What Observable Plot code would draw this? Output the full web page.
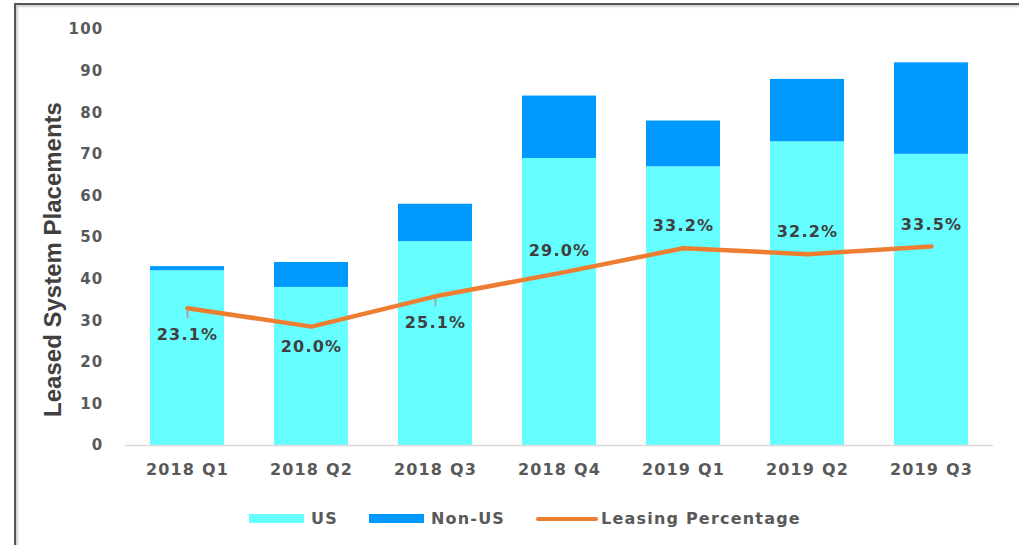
<!DOCTYPE html>
<html>
<head>
<meta charset="utf-8">
<script src="https://cdn.jsdelivr.net/npm/d3@7"></script>
<script src="https://cdn.jsdelivr.net/npm/@observablehq/plot@0.6"></script>
<style>
  html, body { margin: 0; padding: 0; width: 1019px; height: 545px; overflow: hidden; background: #fff; }
  #frame { position: absolute; left: 14px; top: 3px; width: 1100px; height: 600px;
           border: 2px solid #555; box-shadow: inset 2px 2px 2px #d0d0d0; box-sizing: border-box; }
  #chart { position: absolute; left: 0; top: 0; }
  #legend { position: absolute; left: 249px; top: 509px; display: flex; align-items: center;
            font-family: "DejaVu Sans", sans-serif; font-weight: bold; font-size: 16px; letter-spacing: 1.2px; color: #595959; }
  .sw { display: inline-block; width: 55px; height: 9px; margin-right: 7px; }
  .ln { display: inline-block; width: 62px; height: 4px; border-radius: 2px; background: #ED7D31; margin-right: 3px; }
  .item { display: flex; align-items: center; margin-right: 31px; }
  #chart svg text { letter-spacing: 1.2px; }
  #chart svg .ytitle text { letter-spacing: 0; }
</style>
</head>
<body>
<div id="frame"></div>
<div id="chart"></div>
<div id="legend"></div>
<script>
const quarters = ["2018 Q1", "2018 Q2", "2018 Q3", "2018 Q4", "2019 Q1", "2019 Q2", "2019 Q3"];
const usValues = [42, 38, 49, 69, 67, 73, 70];
const nonUsValues = [1, 6, 9, 15, 11, 15, 22];
const leasingPct = [23.1, 20.0, 25.1, 29.0, 33.2, 32.2, 33.5];
const labelPlacement = ["below-moved", "below", "below-moved", "above", "above", "above", "above"];
const yTicks = [0, 10, 20, 30, 40, 50, 60, 70, 80, 90, 100];
const secondaryMax = 70; // hidden secondary axis (0%–70%)
const seriesNames = ["US", "Non-US"];
const seriesColors = ["#66FFFF", "#0099FF"];
const lineColor = "#ED7D31";

const bars = [];
quarters.forEach((q, i) => {
  bars.push({quarter: q, series: "US", value: usValues[i]});
  bars.push({quarter: q, series: "Non-US", value: nonUsValues[i]});
});
const pts = quarters.map((q, i) => ({quarter: q, pct: leasingPct[i], pos: labelPlacement[i],
  y: leasingPct[i] / secondaryMax * 100}));

const plot = Plot.plot({
  width: 1019,
  height: 490,
  marginLeft: 125,
  marginRight: 26,
  marginTop: 29,
  marginBottom: 45,
  style: {fontFamily: "DejaVu Sans, sans-serif", fontWeight: "bold", color: "#595959", background: "transparent"},
  x: {domain: quarters, paddingInner: 0.4, paddingOuter: 0.2, label: null},
  y: {domain: [0, 100], label: null},
  color: {domain: seriesNames, range: seriesColors},
  marks: [
    Plot.barY(bars, Plot.stackY({x: "quarter", y: "value", fill: "series", order: seriesNames})),
    Plot.ruleY([0], {stroke: "#d9d9d9", strokeWidth: 1.5}),
    Plot.axisY({ticks: yTicks, tickSize: 0, tickPadding: 22, fontSize: 15, fill: "#595959", label: null}),
    Plot.axisX({tickSize: 0, tickPadding: 18, fontSize: 16, fill: "#595959", label: null}),
    Plot.ruleX(pts.filter(d => d.pos === "below-moved"), {x: "quarter", y1: "y", y2: d => d.y - 2.5, stroke: "#a6a6a6", strokeWidth: 2}),
    Plot.line(pts, {x: "quarter", y: "y", stroke: lineColor, strokeWidth: 4.5, strokeLinecap: "round", strokeLinejoin: "round"}),
    Plot.text(pts.filter(d => d.pos === "below-moved"), {x: "quarter", y: "y", text: d => d.pct.toFixed(1) + "%", dy: 27, fontSize: 16, fontWeight: "bold", fill: "#404040"}),
    Plot.text(pts.filter(d => d.pos === "below"), {x: "quarter", y: "y", text: d => d.pct.toFixed(1) + "%", dy: 20, fontSize: 16, fontWeight: "bold", fill: "#404040"}),
    Plot.text(pts.filter(d => d.pos === "above"), {x: "quarter", y: "y", text: d => d.pct.toFixed(1) + "%", dy: -22, fontSize: 16, fontWeight: "bold", fill: "#404040"}),
    Plot.text(["Leased System Placements"], {text: d => d, frameAnchor: "left", textAnchor: "middle", dx: -72, dy: 22, rotate: -90,
      className: "ytitle", fontFamily: "Liberation Sans, Arial, sans-serif", fontSize: 24, fontWeight: "bold", fill: "#404040"})
  ]
});
document.getElementById("chart").appendChild(plot);

const legend = document.getElementById("legend");
seriesNames.forEach((s, i) => {
  const it = document.createElement("div");
  it.className = "item";
  it.innerHTML = `<span class="sw" style="background:${seriesColors[i]}"></span><span>${s}</span>`;
  legend.appendChild(it);
});
const li = document.createElement("div");
li.className = "item";
li.innerHTML = `<span class="ln"></span><span>Leasing Percentage</span>`;
legend.appendChild(li);
</script>
</body>
</html>
